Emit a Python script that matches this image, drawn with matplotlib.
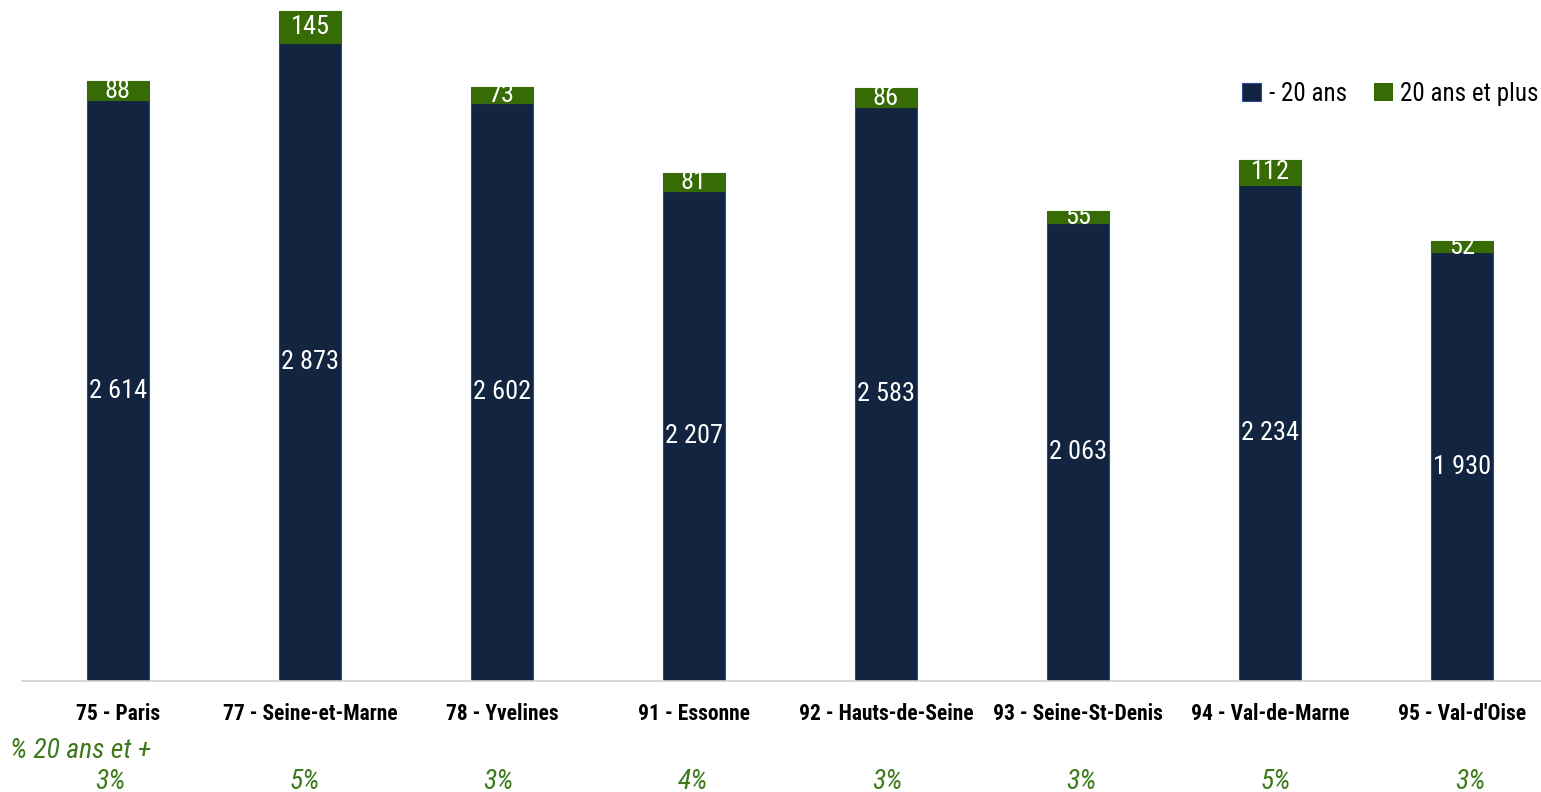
import matplotlib
matplotlib.use("Agg")
import matplotlib.pyplot as plt
from matplotlib.patches import Patch
from matplotlib import font_manager

categories = ["75 - Paris", "77 - Seine-et-Marne", "78 - Yvelines", "91 - Essonne",
              "92 - Hauts-de-Seine", "93 - Seine-St-Denis", "94 - Val-de-Marne", "95 - Val-d'Oise"]
moins_20 = [2614, 2873, 2602, 2207, 2583, 2063, 2234, 1930]
plus_20 = [88, 145, 73, 81, 86, 55, 112, 52]
pct_plus = ["3%", "5%", "3%", "4%", "3%", "3%", "5%", "3%"]
series_names = ["- 20 ans", "20 ans et plus"]
pct_row_title = "% 20 ans et +"

names = {f.name for f in font_manager.fontManager.ttflist}
cands = ["Liberation Sans Narrow", "Arial Narrow", "Roboto Condensed", "Archivo Narrow",
         "Fira Sans Condensed", "IBM Plex Sans Condensed", "Sofia Sans Condensed",
         "Encode Sans Condensed", "Asap Condensed", "Barlow Semi Condensed", "PT Sans Narrow"]
fam = [c for c in cands if c in names][:1] + ["Roboto", "DejaVu Sans"]
plt.rcParams["font.family"] = fam

NAVY = "#12243F"
GREEN = "#376B06"
EDGE = "#2D4A9C"
PCTG = "#3E7A1C"

def fmt(v):
    return f"{v:,}".replace(",", " ")

fig = plt.figure(figsize=(15.41, 7.92), dpi=100)
ax = fig.add_axes([22/1541, 111/792, (1541-22)/1541, 681/792])

x = list(range(len(categories)))
w = 0.32
ax.bar(x, moins_20, width=w, color=NAVY, edgecolor=EDGE, linewidth=0.8)
ax.bar(x, plus_20, width=w, bottom=moins_20, color=GREEN, edgecolor=GREEN, linewidth=0.8)

for xi, v1, v2 in zip(x, moins_20, plus_20):
    ax.text(xi, v1 / 2, fmt(v1), ha="center", va="center", color="white", fontsize=19)
    ax.text(xi, v1 + v2 / 2, fmt(v2), ha="center", va="center", color="white", fontsize=19)

ax.set_xlim(-0.5, -0.5 + 1519/192)
ax.set_ylim(0, 3066)
for s in ["top", "right", "left"]:
    ax.spines[s].set_visible(False)
ax.spines["bottom"].set_color("#D0D0D0")
ax.spines["bottom"].set_linewidth(1.2)
ax.set_yticks([])
ax.set_xticks(x)
ax.set_xticklabels(categories, fontsize=15.5, fontweight="bold", color="black")
ax.tick_params(axis="x", length=0, pad=16)

# percentage row
fig.text(10/1541, 1 - 751/792, pct_row_title, ha="left", va="center", fontsize=20,
         style="italic", color=PCTG)
for i, p in enumerate(pct_plus):
    px = 110 + i * 194.3
    fig.text(px/1541, 1 - 782/792, p, ha="center", va="center", fontsize=20,
             style="italic", color=PCTG)

handles = [Patch(facecolor=NAVY, edgecolor=EDGE, linewidth=0.8), Patch(facecolor=GREEN)]
ax.legend(handles, series_names, loc="upper right", bbox_to_anchor=(1.0 + 8/1519, 0.895),
          ncol=2, frameon=False, fontsize=18, handlelength=0.75, handleheight=0.75,
          handletextpad=0.3, columnspacing=1.1, borderaxespad=0)

fig.savefig("out.png", dpi=100)
